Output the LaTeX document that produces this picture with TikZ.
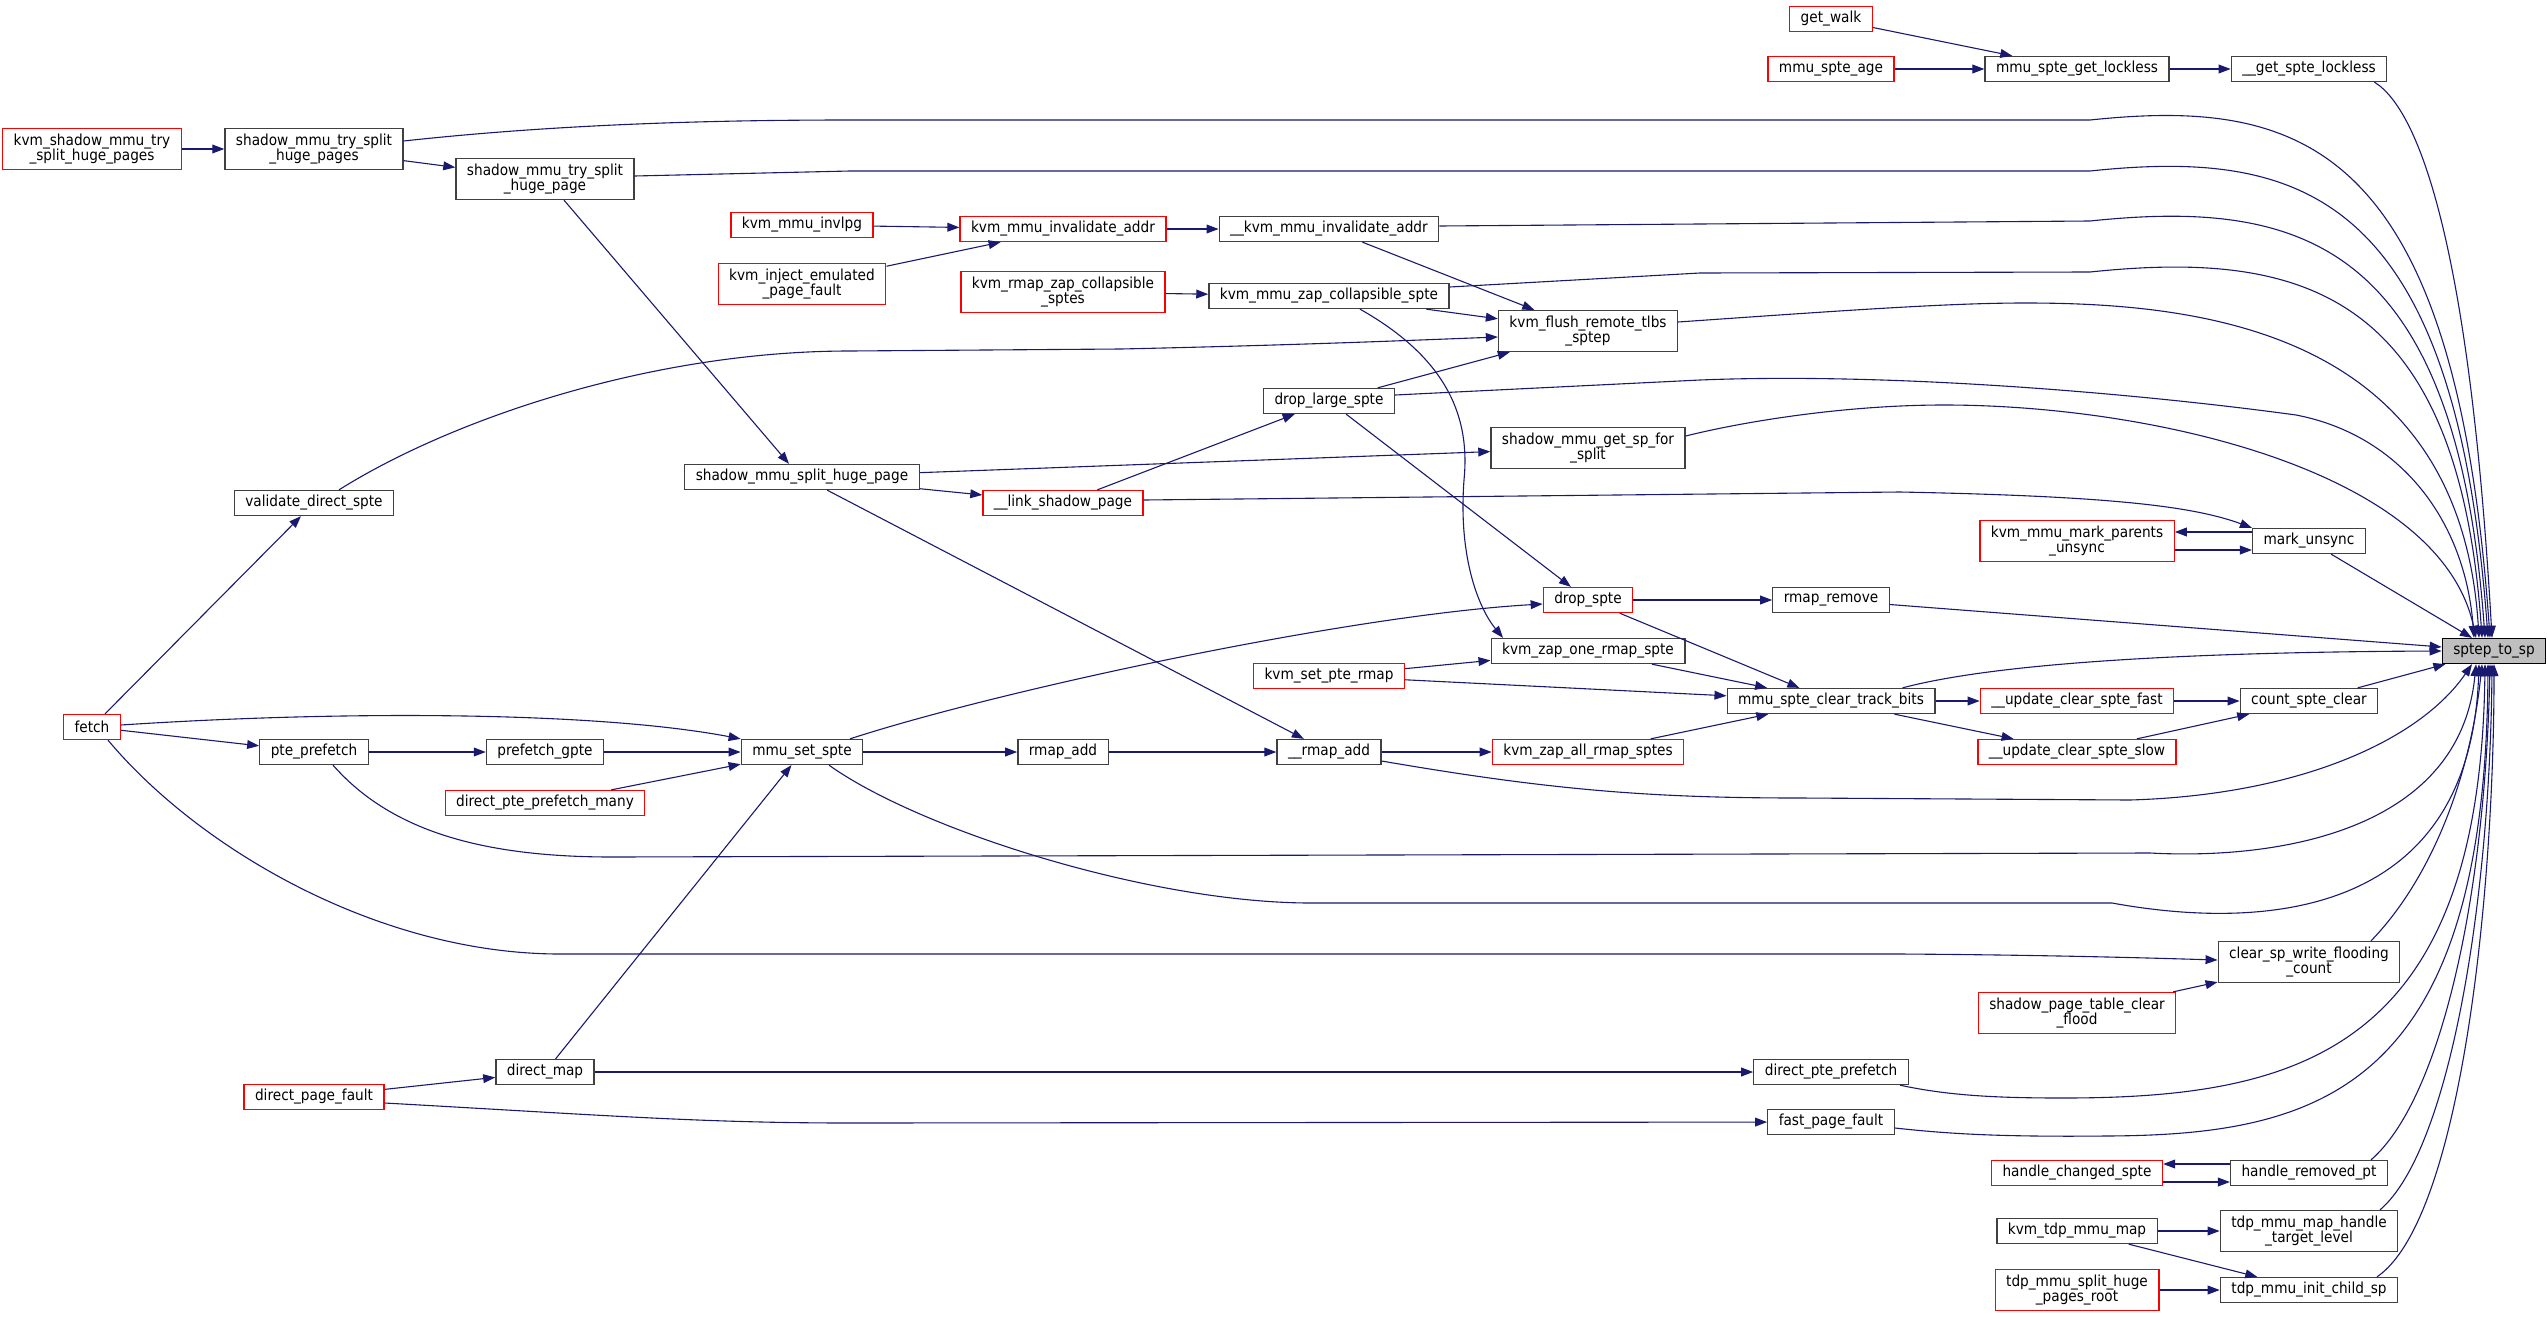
\documentclass[tikz,border=0pt]{standalone}
\usepackage{fontspec}
\setmainfont{DejaVu Sans Condensed}
\usetikzlibrary{arrows.meta}
\definecolor{edgeblue}{HTML}{191970}
\definecolor{boxgray}{HTML}{404040}
\definecolor{fillgray}{HTML}{BFBFBF}
\newcommand{\boxfont}{\fontsize{7.6}{7.6}\selectfont\lineskiplimit=-5pt\relax}
\begin{document}
\begin{tikzpicture}[x=0.5pt, y=-0.5pt, >={Triangle[length=6pt,width=4.4pt]},
	fn/.style={draw=boxgray, line width=0.65pt, fill=white, inner xsep=5.5pt, inner ysep=1pt, minimum height=12.5pt, align=center, font=\boxfont},
	trunc/.style={fn, draw=red},
	two/.style={minimum height=20.5pt},
	focus/.style={fn, draw=black, fill=fillgray},
	call/.style={->, draw=edgeblue, line width=0.55pt}]
	\useasboundingbox (0,0) rectangle (2548,1317);

	\node[trunc, two] (kvmsplit) at (92,149) {kvm\_shadow\_mmu\_try\\\_split\_huge\_pages};
	\node[fn, two] (trysplits) at (314,149) {shadow\_mmu\_try\_split\\\_huge\_pages};
	\node[fn, two] (trysplit) at (545,179) {shadow\_mmu\_try\_split\\\_huge\_page};
	\node[trunc] (invlpg) at (802,225) {kvm\_mmu\_invlpg};
	\node[trunc, two] (inject) at (802,284) {kvm\_inject\_emulated\\\_page\_fault};
	\node[trunc] (invaddr) at (1063,229) {kvm\_mmu\_invalidate\_addr};
	\node[fn] (kinvaddr) at (1329,229) {\_\_kvm\_mmu\_invalidate\_addr};
	\node[trunc, two] (rmapzap) at (1063,292) {kvm\_rmap\_zap\_collapsible\\\_sptes};
	\node[fn] (zapcoll) at (1329,296) {kvm\_mmu\_zap\_collapsible\_spte};
	\node[fn, two] (flush) at (1588,331) {kvm\_flush\_remote\_tlbs\\\_sptep};
	\node[fn] (droplarge) at (1329,401) {drop\_large\_spte};
	\node[fn, two] (getsp) at (1588,448) {shadow\_mmu\_get\_sp\_for\\\_split};
	\node[trunc] (getwalk) at (1831,19) {get\_walk};
	\node[trunc] (spteage) at (1831,69) {mmu\_spte\_age};
	\node[fn] (getlockless) at (2077,69) {mmu\_spte\_get\_lockless};
	\node[fn] (getspte) at (2309,69) {\_\_get\_spte\_lockless};
	\node[fn] (validate) at (314,503) {validate\_direct\_spte};
	\node[fn] (splithuge) at (802,477) {shadow\_mmu\_split\_huge\_page};
	\node[trunc] (fetch) at (92,727) {fetch};
	\node[fn] (pteprefetch) at (314,752) {pte\_prefetch};
	\node[fn] (prefetchgpte) at (545,752) {prefetch\_gpte};
	\node[trunc] (prefetchmany) at (545,803) {direct\_pte\_prefetch\_many};
	\node[fn] (setspte) at (802,752) {mmu\_set\_spte};
	\node[trunc] (linkshadow) at (1063,503) {\_\_link\_shadow\_page};
	\node[trunc] (dropspte) at (1588,600) {drop\_spte};
	\node[fn] (zapone) at (1588,651) {kvm\_zap\_one\_rmap\_spte};
	\node[trunc] (setpte) at (1329,676) {kvm\_set\_pte\_rmap};
	\node[fn] (rmapadd) at (1063,752) {rmap\_add};
	\node[fn] (urmapadd) at (1329,752) {\_\_rmap\_add};
	\node[trunc] (zapall) at (1588,752) {kvm\_zap\_all\_rmap\_sptes};
	\node[trunc, two] (markparents) at (2077,541) {kvm\_mmu\_mark\_parents\\\_unsync};
	\node[fn] (markunsync) at (2309,541) {mark\_unsync};
	\node[fn] (rmapremove) at (1831,600) {rmap\_remove};
	\node[focus] (sptep) at (2494,651) {sptep\_to\_sp};
	\node[fn] (cleartrack) at (1831,701) {mmu\_spte\_clear\_track\_bits};
	\node[trunc] (updfast) at (2077,701) {\_\_update\_clear\_spte\_fast};
	\node[trunc] (updslow) at (2077,752) {\_\_update\_clear\_spte\_slow};
	\node[fn] (countclear) at (2309,701) {count\_spte\_clear};
	\node[fn] (directmap) at (545,1072) {direct\_map};
	\node[trunc] (dpf) at (314,1097) {direct\_page\_fault};
	\node[fn, two] (clearflood) at (2309,962) {clear\_sp\_write\_flooding\\\_count};
	\node[trunc, two] (tableflood) at (2077,1013) {shadow\_page\_table\_clear\\\_flood};
	\node[fn] (dpp) at (1831,1072) {direct\_pte\_prefetch};
	\node[fn] (fpf) at (1831,1122) {fast\_page\_fault};
	\node[trunc] (changed) at (2077,1173) {handle\_changed\_spte};
	\node[fn] (removed) at (2309,1173) {handle\_removed\_pt};
	\node[fn] (tdpmap) at (2077,1231) {kvm\_tdp\_mmu\_map};
	\node[fn, two] (handletarget) at (2309,1231) {tdp\_mmu\_map\_handle\\\_target\_level};
	\node[trunc, two] (tdpsplit) at (2077,1290) {tdp\_mmu\_split\_huge\\\_pages\_root};
	\node[fn] (childsp) at (2309,1290) {tdp\_mmu\_init\_child\_sp};

	\draw[call] (kvmsplit) -- (trysplits);
	\draw[call] (trysplits) -- (trysplit);
	\draw[call] ([yshift=4pt]trysplits.east) .. controls (550,125) and (700,120) .. (850,120) -- (2090,120) .. controls (2300,98) and (2455,140) .. ([xshift=-2pt]sptep.north);
	\draw[call] ([yshift=1.5pt]trysplit.east) -- (850,171) -- (2090,171) .. controls (2300,149) and (2455,190) .. ([xshift=-3pt]sptep.north);
	\draw[call] ([xshift=9.5pt]trysplit.south) -- ([xshift=-6.5pt]splithuge.north);
	\draw[call] (getwalk) -- (getlockless);
	\draw[call] (spteage) -- (getlockless);
	\draw[call] (getlockless) -- (getspte);
	\draw[call] ([xshift=-6.5pt]getspte.south east) .. controls (2420,110) and (2470,250) .. ([xshift=-1pt]sptep.north);
	\draw[call] (invlpg) -- (invaddr);
	\draw[call] (inject) -- (invaddr);
	\draw[call] (invaddr) -- (kinvaddr);
	\draw[call] ([yshift=1.5pt]kinvaddr.east) -- (2090,221) .. controls (2300,199) and (2456,240) .. ([xshift=-4.5pt]sptep.north);
	\draw[call] (kinvaddr) -- (flush);
	\draw[call] (rmapzap) -- (zapcoll);
	\draw[call] ([yshift=4.5pt]zapcoll.east) -- (1700,273) -- (2090,272) .. controls (2300,250) and (2458,290) .. ([xshift=-6pt]sptep.north);
	\draw[call] (zapcoll) -- (flush);
	\draw[call] ([xshift=15.5pt]zapcoll.south) .. controls (1450,360) and (1470,420) .. (1464,480) .. controls (1458,560) and (1480,610) .. ([xshift=-42.5pt]zapone.north);
	\draw[call] ([yshift=4.5pt]flush.east) .. controls (1850,310) and (1950,303) .. (2025,303) .. controls (2200,303) and (2460,330) .. ([xshift=-7.5pt]sptep.north);
	\draw[call] ([xshift=12.5pt]validate.north) .. controls (450,420) and (650,351) .. (850,351) -- (1121,349) .. controls (1300,345) and (1420,340) .. ([yshift=-3pt]flush.west);
	\draw[call] (droplarge) -- (flush);
	\draw[call] ([yshift=3pt]droplarge.east) -- (1700,380) .. controls (1900,372) and (2150,395) .. (2296,415) .. controls (2400,435) and (2465,520) .. ([xshift=-10pt]sptep.north);
	\draw[call] (droplarge) -- (dropspte);
	\draw[call] (linkshadow) -- (droplarge);
	\draw[call] ([yshift=1.5pt]linkshadow.east) -- (1900,492) .. controls (2100,496) and (2190,505) .. (markunsync.north west);
	\draw[call] (splithuge) -- (getsp);
	\draw[call] (splithuge) -- (linkshadow);
	\draw[call] (splithuge) -- (urmapadd);
	\draw[call] ([yshift=6pt]getsp.east) .. controls (1750,420) and (1850,405) .. (1944,405) .. controls (2150,405) and (2440,470) .. ([xshift=-9pt]sptep.north);
	\draw[call] (fetch) -- (validate);
	\draw[call] ([yshift=1pt]fetch.east) .. controls (350,710) and (600,712) .. (setspte.north west);
	\draw[call] (fetch) -- (pteprefetch);
	\draw[call] ([xshift=8pt]fetch.south) .. controls (200,850) and (380,954) .. (560,954) -- (1900,954) .. controls (2050,955) and (2150,958) .. ([yshift=1pt]clearflood.west);
	\draw[call] (pteprefetch) -- (prefetchgpte);
	\draw[call] ([xshift=9.5pt]pteprefetch.south) .. controls (390,830) and (480,857) .. (612,857) -- (2150,853) .. controls (2280,860) and (2460,830) .. ([xshift=-9pt]sptep.south);
	\draw[call] (prefetchgpte) -- (setspte);
	\draw[call] (prefetchmany) -- (setspte);
	\draw[call] (setspte) -- (rmapadd);
	\draw[call] ([xshift=24pt]setspte.north) .. controls (1000,690) and (1350,615) .. ([yshift=-2pt]dropspte.west);
	\draw[call] ([xshift=13.5pt]setspte.south) .. controls (920,830) and (1150,903) .. (1311,903) -- (2112,903) .. controls (2260,930) and (2470,920) .. ([xshift=-7.5pt]sptep.south);
	\draw[call] (rmapadd) -- (urmapadd);
	\draw[call] (urmapadd) -- (zapall);
	\draw[call] ([yshift=-4.5pt]urmapadd.east) .. controls (1550,790) and (1650,798) .. (1800,798) -- (2130,800) .. controls (2300,795) and (2420,740) .. ([xshift=-11pt]sptep.south);
	\draw[call] ([yshift=-4.5pt]markparents.east) -- ([yshift=-4.5pt]markunsync.west);
	\draw[call] ([yshift=4.5pt]markunsync.west) -- ([yshift=4.5pt]markparents.east);
	\draw[call] (markunsync) -- (sptep);
	\draw[call] (dropspte) -- (rmapremove);
	\draw[call] (dropspte) -- (cleartrack);
	\draw[call] (rmapremove) -- (sptep);
	\draw[call] (zapone) -- (cleartrack);
	\draw[call] (setpte) -- (zapone);
	\draw[call] (setpte) -- (cleartrack);
	\draw[call] (zapall) -- (cleartrack);
	\draw[call] ([xshift=-16.5pt]cleartrack.north east) .. controls (2000,662) and (2200,652) .. (sptep.west);
	\draw[call] (cleartrack) -- (updfast);
	\draw[call] (cleartrack) -- (updslow);
	\draw[call] (updfast) -- (countclear);
	\draw[call] (updslow) -- (countclear);
	\draw[call] (countclear) -- (sptep);
	\draw[call] ([xshift=31pt]clearflood.north) .. controls (2430,880) and (2470,780) .. ([xshift=-6pt]sptep.south);
	\draw[call] (tableflood) -- (clearflood);
	\draw[call] (dpf) -- (directmap);
	\draw[call] ([yshift=-3pt]dpf.east) .. controls (600,1115) and (700,1123) .. (850,1123) -- (fpf);
	\draw[call] (directmap) -- (setspte);
	\draw[call] (directmap) -- (dpp);
	\draw[call] ([xshift=34.5pt]dpp.south) .. controls (1950,1096) and (2000,1098) .. (2063,1098) .. controls (2300,1098) and (2480,1050) .. ([xshift=-4.5pt]sptep.south);
	\draw[call] ([yshift=-3pt]fpf.east) .. controls (1950,1134) and (2000,1137) .. (2106,1136) .. controls (2320,1135) and (2485,1090) .. ([xshift=-3pt]sptep.south);
	\draw[call] ([yshift=4.5pt]removed.west) -- ([yshift=4.5pt]changed.east);
	\draw[call] ([yshift=-4.5pt]changed.east) -- ([yshift=-4.5pt]removed.west);
	\draw[call] ([xshift=31pt]removed.north) .. controls (2440,1100) and (2485,900) .. ([xshift=-2pt]sptep.south);
	\draw[call] (tdpmap) -- (handletarget);
	\draw[call] (tdpmap) -- (childsp);
	\draw[call] ([xshift=35.5pt]handletarget.north) .. controls (2450,1150) and (2490,900) .. ([xshift=-1pt]sptep.south);
	\draw[call] (tdpsplit) -- (childsp);
	\draw[call] ([xshift=34pt]childsp.north) .. controls (2460,1220) and (2494,900) .. (sptep.south);
\end{tikzpicture}
\end{document}
